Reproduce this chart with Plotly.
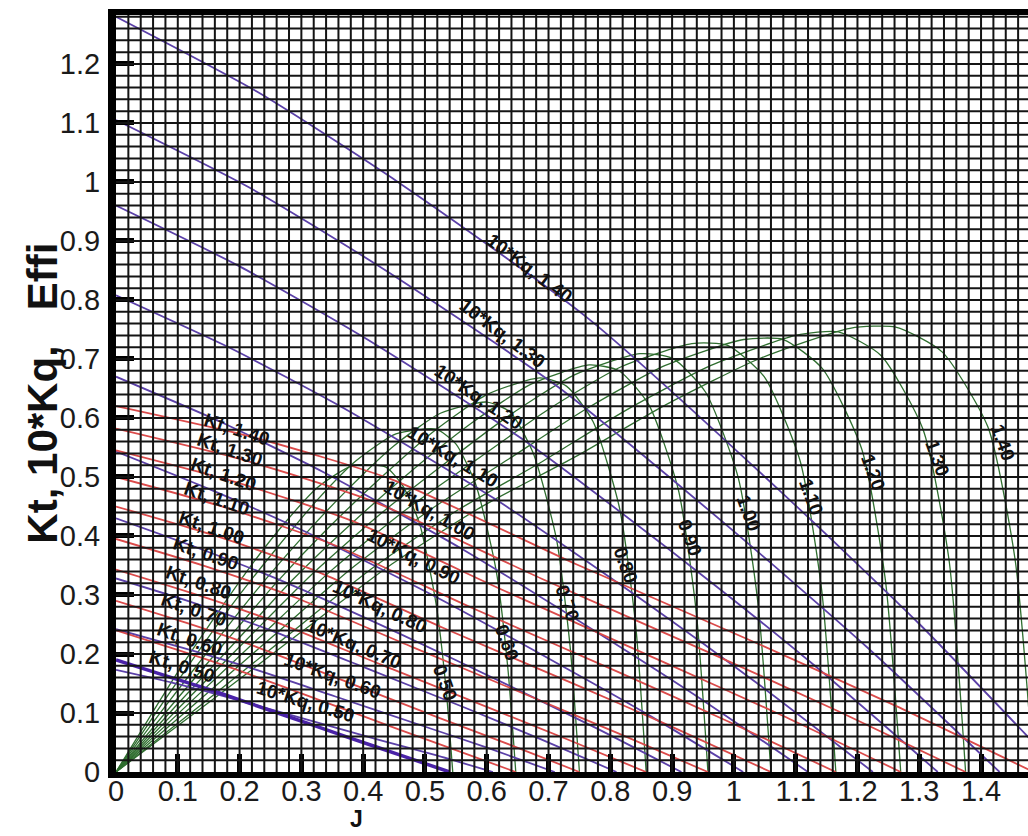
import plotly.graph_objects as go
import numpy as np

# Open-water diagram: thrust (Kt), torque (10*Kq) and efficiency vs advance ratio J
pitch_ratio = ["0.50", "0.60", "0.70", "0.80", "0.90", "1.00", "1.10", "1.20", "1.30", "1.40"]

kt_j = [
    [0, 0.081, 0.162, 0.270, 0.378, 0.459, 0.540],
    [0, 0.097, 0.194, 0.324, 0.453, 0.550, 0.647],
    [0, 0.113, 0.225, 0.375, 0.525, 0.638, 0.750],
    [0, 0.129, 0.257, 0.429, 0.601, 0.729, 0.858],
    [0, 0.144, 0.287, 0.479, 0.671, 0.814, 0.958],
    [0, 0.159, 0.318, 0.530, 0.742, 0.901, 1.060],
    [0, 0.175, 0.350, 0.583, 0.816, 0.990, 1.165],
    [0, 0.191, 0.381, 0.635, 0.889, 1.080, 1.270],
    [0, 0.206, 0.413, 0.688, 0.963, 1.169, 1.375],
    [0, 0.223, 0.446, 0.743, 1.040, 1.262, 1.485],
]
kt_val = [
    [0.190, 0.163, 0.136, 0.097, 0.058, 0.029, 0],
    [0.240, 0.208, 0.174, 0.124, 0.074, 0.037, 0],
    [0.290, 0.253, 0.213, 0.152, 0.091, 0.046, 0],
    [0.343, 0.301, 0.255, 0.182, 0.110, 0.056, 0],
    [0.395, 0.349, 0.297, 0.212, 0.128, 0.065, 0],
    [0.450, 0.401, 0.343, 0.244, 0.149, 0.076, 0],
    [0.500, 0.449, 0.386, 0.275, 0.168, 0.086, 0],
    [0.545, 0.492, 0.426, 0.304, 0.185, 0.095, 0],
    [0.582, 0.529, 0.460, 0.328, 0.201, 0.103, 0],
    [0.620, 0.567, 0.496, 0.353, 0.217, 0.112, 0],
]

kq_j = [
    [0, 0.092, 0.183, 0.305, 0.427, 0.519, 0.610],
    [0, 0.107, 0.213, 0.355, 0.497, 0.604, 0.710],
    [0, 0.122, 0.243, 0.405, 0.567, 0.689, 0.810],
    [0, 0.137, 0.275, 0.458, 0.641, 0.778, 0.915],
    [0, 0.152, 0.305, 0.508, 0.711, 0.863, 1.015],
    [0, 0.168, 0.336, 0.560, 0.784, 0.952, 1.120],
    [0, 0.184, 0.368, 0.613, 0.858, 1.041, 1.225],
    [0, 0.200, 0.399, 0.665, 0.931, 1.131, 1.330],
    [0, 0.215, 0.429, 0.715, 1.001, 1.216, 1.430],
    [0, 0.230, 0.459, 0.765, 1.071, 1.301, 1.530],
]
kq10_val = [
    [0.173, 0.151, 0.126, 0.090, 0.054, 0.028, 0],
    [0.242, 0.211, 0.178, 0.128, 0.078, 0.040, 0],
    [0.328, 0.288, 0.243, 0.176, 0.108, 0.055, 0],
    [0.430, 0.378, 0.321, 0.235, 0.144, 0.074, 0],
    [0.543, 0.479, 0.408, 0.302, 0.186, 0.096, 0],
    [0.670, 0.594, 0.508, 0.378, 0.233, 0.120, 0],
    [0.808, 0.719, 0.617, 0.463, 0.287, 0.148, 0],
    [0.960, 0.857, 0.738, 0.559, 0.348, 0.180, 0],
    [1.105, 0.991, 0.855, 0.653, 0.407, 0.211, 0],
    [1.280, 1.152, 0.998, 0.768, 0.480, 0.250, 0],
]

eta_j = [
    [0, 0.055, 0.109, 0.164, 0.218, 0.273, 0.327, 0.382, 0.436, 0.463, 0.491, 0.518, 0.534, 0.545],
    [0, 0.065, 0.129, 0.194, 0.259, 0.324, 0.388, 0.453, 0.518, 0.550, 0.582, 0.615, 0.634, 0.647],
    [0, 0.075, 0.150, 0.225, 0.300, 0.375, 0.450, 0.525, 0.600, 0.638, 0.675, 0.713, 0.735, 0.750],
    [0, 0.086, 0.172, 0.257, 0.343, 0.429, 0.515, 0.601, 0.686, 0.729, 0.772, 0.815, 0.841, 0.858],
    [0, 0.096, 0.192, 0.287, 0.383, 0.479, 0.575, 0.671, 0.766, 0.814, 0.862, 0.910, 0.939, 0.958],
    [0, 0.106, 0.212, 0.318, 0.424, 0.530, 0.636, 0.742, 0.848, 0.901, 0.954, 1.007, 1.039, 1.060],
    [0, 0.117, 0.233, 0.350, 0.466, 0.583, 0.699, 0.816, 0.932, 0.990, 1.049, 1.107, 1.142, 1.165],
    [0, 0.127, 0.254, 0.381, 0.508, 0.635, 0.762, 0.889, 1.016, 1.080, 1.143, 1.207, 1.245, 1.270],
    [0, 0.138, 0.275, 0.413, 0.550, 0.688, 0.825, 0.963, 1.100, 1.169, 1.238, 1.306, 1.348, 1.375],
    [0, 0.149, 0.297, 0.446, 0.594, 0.743, 0.891, 1.040, 1.188, 1.262, 1.337, 1.411, 1.455, 1.485],
]
eta_val = [
    [0, 0.094, 0.184, 0.269, 0.349, 0.422, 0.483, 0.519, 0.517, 0.487, 0.422, 0.285, 0.143, 0],
    [0, 0.101, 0.198, 0.292, 0.378, 0.459, 0.527, 0.573, 0.581, 0.556, 0.488, 0.343, 0.178, 0],
    [0, 0.105, 0.206, 0.305, 0.396, 0.479, 0.553, 0.608, 0.627, 0.610, 0.541, 0.394, 0.212, 0],
    [0, 0.108, 0.214, 0.318, 0.413, 0.499, 0.578, 0.640, 0.668, 0.654, 0.594, 0.447, 0.249, 0],
    [0, 0.111, 0.219, 0.327, 0.423, 0.511, 0.591, 0.657, 0.690, 0.680, 0.623, 0.479, 0.272, 0],
    [0, 0.113, 0.225, 0.336, 0.434, 0.521, 0.604, 0.673, 0.709, 0.701, 0.644, 0.499, 0.286, 0],
    [0, 0.115, 0.229, 0.343, 0.442, 0.529, 0.614, 0.686, 0.726, 0.723, 0.670, 0.528, 0.309, 0],
    [0, 0.115, 0.230, 0.345, 0.444, 0.530, 0.616, 0.689, 0.733, 0.733, 0.684, 0.547, 0.327, 0],
    [0, 0.114, 0.229, 0.344, 0.442, 0.525, 0.613, 0.689, 0.740, 0.746, 0.706, 0.581, 0.361, 0],
    [0, 0.117, 0.235, 0.352, 0.451, 0.534, 0.623, 0.700, 0.752, 0.754, 0.712, 0.585, 0.361, 0],
]

# curve-label anchor points (J, value, text angle)
kt_label_at = [(0.107, 0.178, 18), (0.120, 0.225, 19), (0.126, 0.275, 19), (0.134, 0.322, 19),
               (0.146, 0.370, 19), (0.155, 0.415, 19), (0.163, 0.463, 19), (0.175, 0.505, 19),
               (0.184, 0.546, 19), (0.196, 0.580, 18)]
kq_label_at = [(0.306, 0.120, 17), (0.350, 0.164, 20), (0.384, 0.217, 23), (0.427, 0.280, 25),
               (0.482, 0.366, 27), (0.508, 0.444, 30), (0.545, 0.534, 31), (0.586, 0.636, 34),
               (0.626, 0.744, 37), (0.670, 0.854, 37)]
eta_label_at = [(0.532, 0.151), (0.633, 0.220), (0.731, 0.286), (0.824, 0.351), (0.929, 0.398),
                (1.023, 0.439), (1.126, 0.466), (1.225, 0.507), (1.330, 0.532), (1.435, 0.558)]

X_MAX, Y_MAX = 1.476, 1.283
FONT = "Liberation Sans, Arial, sans-serif"
RED, PURPLE, GREEN, DEEP = "#db4a4a", "#5b40a8", "#2f6e2f", "#4a22a8"

fig = go.Figure()
for i, pd_txt in enumerate(pitch_ratio):
    fig.add_trace(go.Scatter(x=eta_j[i], y=eta_val[i], mode="lines",
                             line=dict(color=GREEN, width=1.3, shape="spline", smoothing=0.6),
                             name="Effi " + pd_txt))
for i, pd_txt in enumerate(pitch_ratio):
    fig.add_trace(go.Scatter(x=kq_j[i], y=kq10_val[i], mode="lines",
                             line=dict(color=PURPLE, width=1.8, shape="spline", smoothing=0.6),
                             name="10*Kq " + pd_txt))
for i, pd_txt in enumerate(pitch_ratio):
    thick = i == 0
    fig.add_trace(go.Scatter(x=kt_j[i], y=kt_val[i], mode="lines",
                             line=dict(color=DEEP if thick else RED, width=3.5 if thick else 1.8,
                                       shape="spline", smoothing=0.6),
                             name="Kt " + pd_txt))

# dense black grid drawn over the curves
shapes = []
for gx in np.arange(0.02, X_MAX, 0.02):
    shapes.append(dict(type="line", xref="x", yref="y", x0=gx, x1=gx, y0=0, y1=Y_MAX,
                       line=dict(color="#141414", width=2), layer="above"))
for gy in np.arange(0.02, Y_MAX, 0.02):
    shapes.append(dict(type="line", xref="x", yref="y", x0=0, x1=X_MAX, y0=gy, y1=gy,
                       line=dict(color="#141414", width=2), layer="above"))

annotations = []
lab_font = dict(family=FONT, size=19, color="#111111", weight="bold")
for pd_txt, (jx, vy, ang) in zip(pitch_ratio, kt_label_at):
    annotations.append(dict(x=jx, y=vy, xref="x", yref="y", text="Kt, " + pd_txt,
                            showarrow=False, textangle=ang, font=lab_font))
for pd_txt, (jx, vy, ang) in zip(pitch_ratio, kq_label_at):
    annotations.append(dict(x=jx, y=vy, xref="x", yref="y", text="10*Kq, " + pd_txt,
                            showarrow=False, textangle=ang, font=lab_font))
for pd_txt, (jx, vy) in zip(pitch_ratio, eta_label_at):
    annotations.append(dict(x=jx, y=vy, xref="x", yref="y", text=pd_txt,
                            showarrow=False, textangle=70, font=lab_font))

annotations.append(dict(x=0.264, y=-0.0825, xref="paper", yref="paper", text="J",
                        xanchor="center", yanchor="bottom", showarrow=False,
                        font=dict(family=FONT, size=23, color="#111111", weight="bold")))
annotations.append(dict(x=-0.081, y=0.5, xref="paper", yref="paper",
                        text="Kt, 10*Kq,\u00a0\u00a0 Effi", textangle=-90, showarrow=False,
                        xanchor="center", yanchor="middle",
                        font=dict(family=FONT, size=42, color="#111111", weight="bold")))

axis_common = dict(ticks="inside", ticklen=18, tickwidth=5, tickcolor="#000000",
                   showline=True, linecolor="#000000", showgrid=False, zeroline=False,
                   tickfont=dict(family=FONT, size=29, color="#1a1a1a"), dtick=0.1, tick0=0)

fig.update_layout(
    width=1028, height=836,
    margin=dict(l=116, r=0, t=15, b=64),
    paper_bgcolor="white", plot_bgcolor="white",
    showlegend=False,
    shapes=shapes,
    annotations=annotations,
    xaxis=dict(range=[0, X_MAX], linewidth=6, mirror=True, ticklabelstandoff=-12, **axis_common),
    yaxis=dict(range=[0, Y_MAX], linewidth=8, mirror=False, ticklabelstandoff=2, **axis_common),
)

fig.write_html("out.html")
